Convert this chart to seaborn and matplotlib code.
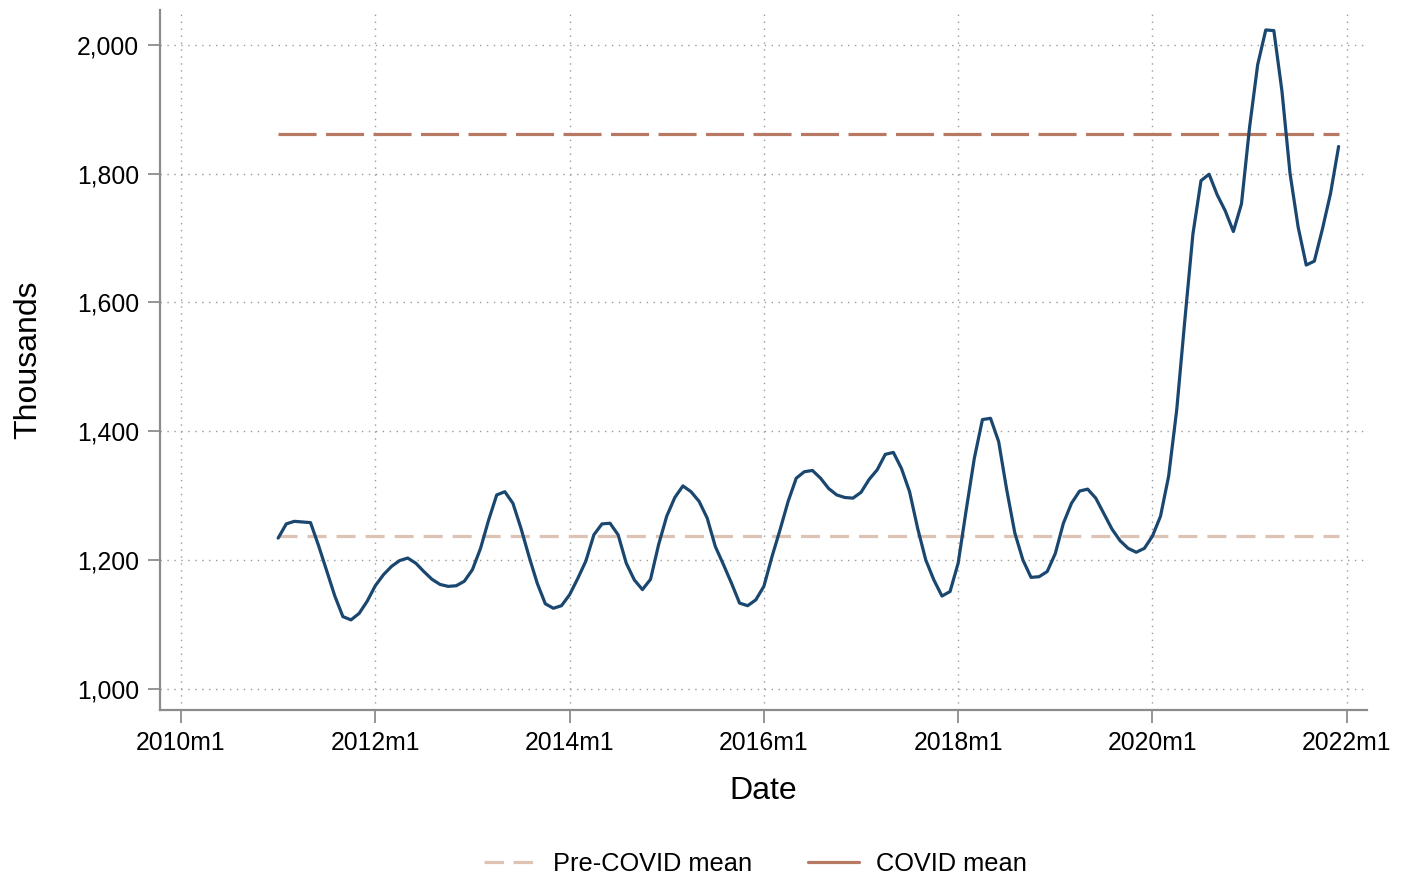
import matplotlib
matplotlib.use("Agg")
import numpy as np
import pandas as pd
import matplotlib.pyplot as plt
import seaborn as sns
from matplotlib.lines import Line2D

# monthly series, 2011m1 .. 2021m12 (thousands)
values = [
    1234, 1256, 1260, 1259, 1258, 1222, 1183, 1144, 1112, 1107, 1117, 1136,  # 2011
    1160, 1177, 1190, 1199, 1203, 1195, 1182, 1170, 1162, 1159, 1160, 1167,  # 2012
    1185, 1218, 1262, 1301, 1306, 1288, 1249, 1205, 1164, 1132, 1125, 1129,  # 2013
    1146, 1171, 1198, 1239, 1256, 1257, 1239, 1195, 1169, 1154, 1170, 1224,  # 2014
    1268, 1297, 1315, 1306, 1291, 1265, 1221, 1193, 1164, 1133, 1129, 1138,  # 2015
    1159, 1205, 1247, 1291, 1327, 1337, 1339, 1327, 1311, 1301, 1297, 1296,  # 2016
    1305, 1325, 1340, 1364, 1367, 1342, 1306, 1249, 1200, 1169, 1144, 1151,  # 2017
    1195, 1278, 1358, 1418, 1420, 1384, 1309, 1242, 1200, 1173, 1174, 1182,  # 2018
    1210, 1257, 1288, 1307, 1310, 1296, 1272, 1248, 1230, 1218, 1212, 1218,  # 2019
    1237, 1268, 1330, 1433, 1572, 1706, 1789, 1799, 1767, 1742, 1710, 1753,  # 2020
    1872, 1969, 2023, 2022, 1928, 1800, 1717, 1658, 1664, 1714, 1769, 1842,  # 2021
]
pre_covid_mean = 1237
covid_mean = 1862

x_ticks = [2010, 2012, 2014, 2016, 2018, 2020, 2022]
x_labels = ["2010m1", "2012m1", "2014m1", "2016m1", "2018m1", "2020m1", "2022m1"]
y_ticks = [1000, 1200, 1400, 1600, 1800, 2000]

LINE_BLUE = "#1a476f"
PRE_COL = "#dcc3b3"
COVID_COL = "#b87962"
GRID_COL = "#9a9a9a"
SPINE_COL = "#8c8c8c"

dates = pd.date_range("2011-01-01", periods=len(values), freq="MS")
t = dates.year + (dates.month - 1) / 12.0
df = pd.DataFrame({"t": t, "value": values,
                   "pre": [pre_covid_mean] * len(values),
                   "covid": [covid_mean] * len(values)})

sns.set_style("white")
plt.rcParams["font.family"] = ["Liberation Sans", "DejaVu Sans"]
plt.rcParams["lines.scale_dashes"] = False
plt.rcParams["text.color"] = "black"
plt.rcParams["axes.labelcolor"] = "black"
plt.rcParams["xtick.labelcolor"] = "black"
plt.rcParams["ytick.labelcolor"] = "black"

fig = plt.figure(figsize=(14.02, 8.77), dpi=100)
ax = fig.add_axes([0.1141, 0.1904, 0.975 - 0.1141, 0.9886 - 0.1904])

sns.lineplot(data=df, x="t", y="pre", ax=ax, color=PRE_COL, linewidth=2.3,
             linestyle=(0, (13.7, 7.2)))
sns.lineplot(data=df, x="t", y="covid", ax=ax, color=COVID_COL, linewidth=2.3,
             linestyle=(0, (27.4, 6.8)))
sns.lineplot(data=df, x="t", y="value", ax=ax, color=LINE_BLUE, linewidth=2.3)

ax.set_xlim(2010 - 2.6 / 12, 2022 + 2.5 / 12)
ax.set_ylim(967, 2054)
ax.set_xticks(x_ticks)
ax.set_xticklabels(x_labels)
ax.set_yticks(y_ticks)
ax.set_yticklabels(["{:,}".format(v) for v in y_ticks])

ax.grid(True, color=GRID_COL, linestyle=(0, (1, 4)), linewidth=1.0)
for s in ["top", "right"]:
    ax.spines[s].set_visible(False)
for s in ["left", "bottom"]:
    ax.spines[s].set_color(SPINE_COL)
    ax.spines[s].set_linewidth(1.6)
ax.tick_params(axis="both", which="major", direction="out", length=9, width=1.3,
               color=SPINE_COL, labelsize=17.8, pad=6, left=True, bottom=True)

ax.set_xlabel("Date", fontsize=23, labelpad=15)
ax.set_ylabel("Thousands", fontsize=23, labelpad=24)

handles = [
    Line2D([], [], color=PRE_COL, linewidth=2.3, linestyle=(0, (14, 7))),
    Line2D([], [], color=COVID_COL, linewidth=2.3),
]
fig.legend(handles, ["Pre-COVID mean", "COVID mean"], loc="center",
           bbox_to_anchor=(0.539, 0.0148), ncol=2, frameon=False, fontsize=18.3,
           handlelength=2.0, handletextpad=0.7, columnspacing=2.2)

fig.savefig("out.png", dpi=100)
